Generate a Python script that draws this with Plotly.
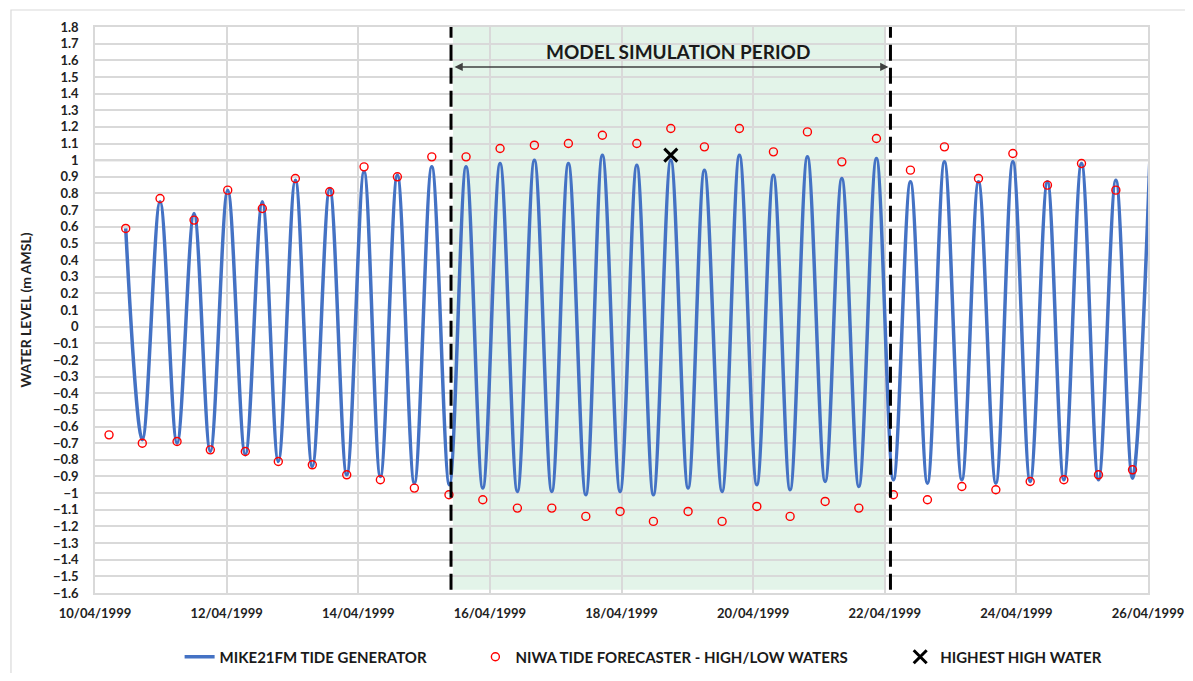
import plotly.graph_objects as go

# ---------------- data ----------------
# MIKE21FM tide generator: successive high / low water turning points
tide_times = [
    "1999-04-10 11:12", "1999-04-10 17:15", "1999-04-10 23:43", "1999-04-11 05:55",
    "1999-04-11 12:07", "1999-04-11 18:03", "1999-04-12 00:24", "1999-04-12 06:49",
    "1999-04-12 13:01", "1999-04-12 18:51", "1999-04-13 01:04", "1999-04-13 07:15",
    "1999-04-13 13:36", "1999-04-13 19:48", "1999-04-14 02:07", "1999-04-14 08:04",
    "1999-04-14 14:16", "1999-04-14 20:28", "1999-04-15 02:49", "1999-04-15 09:14",
    "1999-04-15 15:19", "1999-04-15 21:25", "1999-04-16 03:43", "1999-04-16 10:02",
    "1999-04-16 16:14", "1999-04-16 22:35", "1999-04-17 04:38", "1999-04-17 10:59",
    "1999-04-17 17:02", "1999-04-17 23:29", "1999-04-18 05:35", "1999-04-18 11:38",
    "1999-04-18 17:59", "1999-04-19 00:17", "1999-04-19 06:14", "1999-04-19 12:41",
    "1999-04-19 19:00", "1999-04-20 01:21", "1999-04-20 07:24", "1999-04-20 13:29",
    "1999-04-20 19:48", "1999-04-21 02:16", "1999-04-21 08:21", "1999-04-21 14:33",
    "1999-04-21 20:58", "1999-04-22 03:10", "1999-04-22 09:22", "1999-04-22 15:34",
    "1999-04-22 21:46", "1999-04-23 04:07", "1999-04-23 10:11", "1999-04-23 16:31",
    "1999-04-23 22:43", "1999-04-24 05:02", "1999-04-24 11:20", "1999-04-24 17:19",
    "1999-04-24 23:45", "1999-04-25 05:57", "1999-04-25 12:17", "1999-04-25 18:21",
    "1999-04-26 00:37",
]
tide_levels = [
    0.59, -0.68, 0.75, -0.70, 0.68, -0.75, 0.82, -0.77, 0.75, -0.81,
    0.88, -0.84, 0.83, -0.89, 0.93, -0.90, 0.91, -0.94, 0.96, -0.95,
    0.96, -0.97, 0.98, -0.99, 1.00, -0.99, 0.98, -1.01, 1.03, -0.99,
    0.97, -1.01, 1.00, -0.97, 0.94, -0.99, 1.03, -0.95, 0.91, -0.98,
    1.02, -0.93, 0.89, -0.96, 1.01, -0.92, 0.87, -0.94, 0.99, -0.92,
    0.87, -0.94, 0.99, -0.93, 0.87, -0.92, 0.98, -0.92, 0.88, -0.91,
    0.98,
]

# NIWA tide forecaster: high / low waters
niwa_times = [
    "1999-04-10 05:07", "1999-04-10 11:12", "1999-04-10 17:15", "1999-04-10 23:43",
    "1999-04-11 05:55", "1999-04-11 12:07", "1999-04-11 18:03", "1999-04-12 00:24",
    "1999-04-12 06:49", "1999-04-12 13:01", "1999-04-12 18:51", "1999-04-13 01:04",
    "1999-04-13 07:15", "1999-04-13 13:36", "1999-04-13 19:48", "1999-04-14 02:07",
    "1999-04-14 08:04", "1999-04-14 14:16", "1999-04-14 20:28", "1999-04-15 02:49",
    "1999-04-15 09:05", "1999-04-15 15:19", "1999-04-15 21:25", "1999-04-16 03:43",
    "1999-04-16 10:02", "1999-04-16 16:14", "1999-04-16 22:35", "1999-04-17 04:38",
    "1999-04-17 10:59", "1999-04-17 17:02", "1999-04-17 23:29", "1999-04-18 05:35",
    "1999-04-18 11:38", "1999-04-18 17:59", "1999-04-19 00:17", "1999-04-19 06:14",
    "1999-04-19 12:41", "1999-04-19 19:00", "1999-04-20 01:21", "1999-04-20 07:24",
    "1999-04-20 13:29", "1999-04-20 19:48", "1999-04-21 02:16", "1999-04-21 08:21",
    "1999-04-21 14:33", "1999-04-21 20:58", "1999-04-22 03:10", "1999-04-22 09:22",
    "1999-04-22 15:34", "1999-04-22 21:46", "1999-04-23 04:07", "1999-04-23 10:11",
    "1999-04-23 16:31", "1999-04-23 22:43", "1999-04-24 05:02", "1999-04-24 11:20",
    "1999-04-24 17:19", "1999-04-24 23:45", "1999-04-25 05:57", "1999-04-25 12:17",
    "1999-04-25 18:21",
]
niwa_levels = [
    -0.65, 0.59, -0.70, 0.77, -0.69, 0.64, -0.74, 0.82, -0.75, 0.71,
    -0.81, 0.89, -0.83, 0.81, -0.89, 0.96, -0.92, 0.90, -0.97, 1.02,
    -1.01, 1.02, -1.04, 1.07, -1.09, 1.09, -1.09, 1.10, -1.14, 1.15,
    -1.11, 1.10, -1.17, 1.19, -1.11, 1.08, -1.17, 1.19, -1.08, 1.05,
    -1.14, 1.17, -1.05, 0.99, -1.09, 1.13, -1.01, 0.94, -1.04, 1.08,
    -0.96, 0.89, -0.98, 1.04, -0.93, 0.85, -0.92, 0.98, -0.89, 0.82,
    -0.86,
]

# Highest high water
hhw_time = ["1999-04-18 17:59"]
hhw_level = [1.03]

# Model simulation period
sim_start = "1999-04-15 09:50"
sim_end = "1999-04-22 02:05"

x_range = ["1999-04-10 00:00", "1999-04-26 00:00"]
y_range = [-1.6, 1.8]

FONT = "Lato"
TXT = "#222222"
nb = "\u00a0"

fig = go.Figure()

fig.add_trace(go.Scatter(
    x=tide_times, y=tide_levels, mode="lines",
    line=dict(color="#4472C4", width=3.5, shape="spline", smoothing=1.0),
    name="MIKE21FM TIDE GENERATOR" + nb * 12,
))
fig.add_trace(go.Scatter(
    x=niwa_times, y=niwa_levels, mode="markers",
    marker=dict(symbol="circle-open", size=8, color="#FF0000", line=dict(width=1.4, color="#FF0000")),
    name="NIWA TIDE FORECASTER - HIGH/LOW WATERS" + nb * 13,
))
fig.add_trace(go.Scatter(
    x=hhw_time, y=hhw_level, mode="markers",
    marker=dict(symbol="x-thin", size=13, color="black", line=dict(width=3, color="black")),
    name="HIGHEST HIGH WATER",
))

shapes = [
    # outer chart frame
    dict(type="rect", xref="paper", yref="paper", x0=-0.0798, x1=1.06, y0=-0.25, y1=1.030,
         line=dict(color="#D9D9D9", width=1.2), fillcolor="rgba(0,0,0,0)", layer="below"),
    # simulation period shading
    dict(type="rect", xref="x", yref="y", x0="1999-04-15 10:35", x1="1999-04-22 00:24",
         y0=-1.58, y1=1.8, line=dict(width=0), fillcolor="#E3F4E9", layer="below"),
    # +/-1 m reference lines
    dict(type="line", xref="paper", yref="y", x0=0, x1=1, y0=1, y1=1,
         line=dict(color="#BFBFBF", width=2), layer="between"),
    dict(type="line", xref="paper", yref="y", x0=0, x1=1, y0=-1, y1=-1,
         line=dict(color="#BFBFBF", width=2), layer="between"),
    # dashed period boundaries
    dict(type="line", xref="x", yref="y", x0=sim_start, x1=sim_start, y0=-1.58, y1=1.8,
         line=dict(color="black", width=3, dash="16px,7px"), layer="above"),
    dict(type="line", xref="x", yref="y", x0=sim_end, x1=sim_end, y0=-1.58, y1=1.8,
         line=dict(color="black", width=3, dash="16px,7px"), layer="above"),
]

annotations = [
    dict(x=sim_end, y=1.56, ax=sim_start, ay=1.56, xref="x", yref="y", axref="x", ayref="y",
         text="", showarrow=True, arrowhead=2, arrowside="end+start", arrowsize=1.1,
         arrowwidth=1.5, arrowcolor="#404040", standoff=2, startstandoff=2),
    dict(x="1999-04-18 20:28", y=1.655, xref="x", yref="y", text="<b>MODEL SIMULATION PERIOD</b>",
         showarrow=False, font=dict(family=FONT, size=19, color="#1a1a1a")),
]

fig.update_layout(
    width=1177, height=665,
    margin=dict(l=87, r=37, t=19, b=80, autoexpand=False),
    paper_bgcolor="white", plot_bgcolor="white",
    font=dict(family=FONT, color=TXT),
    shapes=shapes, annotations=annotations,
    showlegend=True,
    legend=dict(orientation="h", x=0.521, xanchor="center", y=-0.1131, yanchor="middle",
                font=dict(family=FONT, size=15, color="#1a1a1a", weight="bold"),
                bgcolor="rgba(0,0,0,0)", itemwidth=30),
    xaxis=dict(
        type="date", range=x_range, tick0="1999-04-10", dtick=2 * 86400000,
        tickformat="%d/%m/%Y", showgrid=True, gridcolor="#D9D9D9", gridwidth=1.5,
        showline=True, linecolor="#D9D9D9", linewidth=1.5, mirror=True,
        ticks="", ticklabelstandoff=8, automargin=False, zeroline=False,
        tickfont=dict(family=FONT, size=13, color=TXT, weight="bold"),
    ),
    yaxis=dict(
        range=y_range, tick0=-1.6, dtick=0.1, tickformat="~g",
        showgrid=True, gridcolor="#D9D9D9", gridwidth=1.5,
        showline=True, linecolor="#D9D9D9", linewidth=1.5, mirror=True,
        ticks="", ticklabelstandoff=12, automargin=False, zeroline=False,
        tickfont=dict(family=FONT, size=13, color=TXT, weight="bold"),
        title=dict(text="WATER LEVEL (m AMSL)", standoff=18,
                   font=dict(family=FONT, size=14, color=TXT, weight="bold")),
    ),
)

fig.write_html("out.html")
